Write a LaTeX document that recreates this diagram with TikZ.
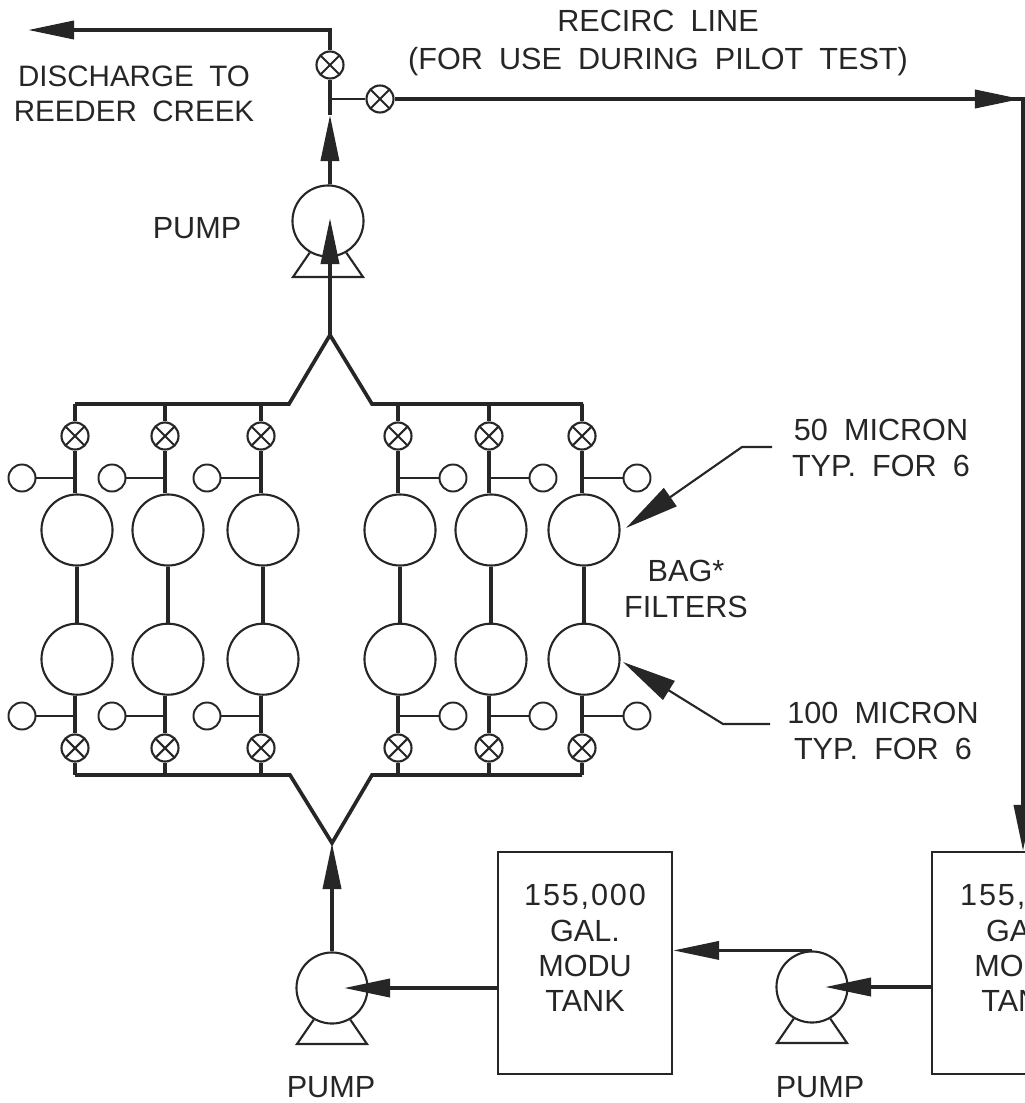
\documentclass[tikz,border=0pt]{standalone}
\usepackage{fontspec}
\setmainfont[WordSpace=1.9]{Liberation Sans}
\usepackage{xcolor}
\usetikzlibrary{arrows.meta, positioning}
\definecolor{plantink}{HTML}{262626}

\begin{document}
\begin{tikzpicture}[
      x=0.01cm, y=-0.01cm,
      node distance=0.56cm,
      pipe/.style={draw=plantink, line width=1.05pt},
      thinpipe/.style={draw=plantink, line width=0.6pt},
      flow/.style={pipe, -{Triangle[length=4.6mm, width=1.8mm]}},
      leader/.style={thinpipe, -{Triangle[length=5.4mm, width=2.2mm]}},
      valve/.style={circle, draw=plantink, line width=0.6pt, fill=white, inner sep=0pt, minimum size=0.27cm,
        path picture={\draw[plantink, line width=0.6pt] (path picture bounding box.north west) -- (path picture bounding box.south east)
          (path picture bounding box.north east) -- (path picture bounding box.south west);}},
      gauge/.style={circle, draw=plantink, line width=0.55pt, inner sep=0pt, minimum size=0.27cm},
      bag/.style={circle, draw=plantink, line width=0.6pt, inner sep=0pt, minimum size=0.71cm},
      pump/.style={circle, draw=plantink, line width=0.6pt, inner sep=0pt, minimum size=0.71cm},
      tank/.style={draw=plantink, line width=0.6pt, minimum width=1.74cm, minimum height=2.22cm},
      tag/.style={text=plantink, align=center, inner sep=0pt, font=\fontsize{8.7}{10}\selectfont}
    ]
      \useasboundingbox (0,0) rectangle (1025,1103);
      \clip (0,0) rectangle (1025,1103);

      % top line
      \node[valve] (valveOut) at (330,65) {};
      \node[valve] (valveRecirc) at (380,99) {};
      \node[pump] (pumpA) at (328,221) {};
      \coordinate (teeOut) at (330,99);
      \coordinate (teeTip) at (330,115);
      \coordinate (pumpATip) at (330,218);
      \coordinate (bendOut) at (330,30);
      \coordinate (outEnd) at (28,30);
      \coordinate (recircTip) at (1021,99);
      \coordinate (recircBend) at (1023,99);
      \coordinate (tankBIn) at (1023,851);

      % upper header
      \coordinate (headTopL) at (75,404);
      \coordinate (headTopK) at (289,404);
      \coordinate (headTopP) at (330,335);
      \coordinate (headTopM) at (372,404);
      \coordinate (headTopR) at (583,404);

      % lower header
      \coordinate (headLowL) at (75,775);
      \coordinate (headLowK) at (290,775);
      \coordinate (headLowP) at (332,843);
      \coordinate (headLowM) at (372,775);
      \coordinate (headLowR) at (582,775);

      % upper valves
      \node[valve] (valveTopA) at (75,436) {};
      \node[valve] (valveTopB) at (165,436) {};
      \node[valve] (valveTopC) at (261,436) {};
      \node[valve] (valveTopD) at (398,436) {};
      \node[valve] (valveTopE) at (489,436) {};
      \node[valve] (valveTopF) at (582,436) {};

      % 50 micron bags
      \node[bag] (bagTopA) at (77,530) {};
      \node[bag] (bagTopB) at (168,530) {};
      \node[bag] (bagTopC) at (263,530) {};
      \node[bag] (bagTopD) at (400,530) {};
      \node[bag] (bagTopE) at (491,530) {};
      \node[bag] (bagTopF) at (584,530) {};

      % 100 micron bags
      \node[bag, below=of bagTopA] (bagLowA) {};
      \node[bag, below=of bagTopB] (bagLowB) {};
      \node[bag, below=of bagTopC] (bagLowC) {};
      \node[bag, below=of bagTopD] (bagLowD) {};
      \node[bag, below=of bagTopE] (bagLowE) {};
      \node[bag, below=of bagTopF] (bagLowF) {};

      % lower valves
      \node[valve] (valveLowA) at (75,748) {};
      \node[valve] (valveLowB) at (165,748) {};
      \node[valve] (valveLowC) at (261,748) {};
      \node[valve] (valveLowD) at (398,748) {};
      \node[valve] (valveLowE) at (489,748) {};
      \node[valve] (valveLowF) at (582,748) {};

      % gauges
      \node[gauge] (gaugeTopA) at (22,478) {};
      \node[gauge] (gaugeTopB) at (112,478) {};
      \node[gauge] (gaugeTopC) at (207,478) {};
      \node[gauge] (gaugeTopD) at (453,478) {};
      \node[gauge] (gaugeTopE) at (543,478) {};
      \node[gauge] (gaugeTopF) at (637,478) {};
      \node[gauge] (gaugeLowA) at (22,716) {};
      \node[gauge] (gaugeLowB) at (112,716) {};
      \node[gauge] (gaugeLowC) at (207,716) {};
      \node[gauge] (gaugeLowD) at (453,716) {};
      \node[gauge] (gaugeLowE) at (543,716) {};
      \node[gauge] (gaugeLowF) at (637,716) {};

      % tanks and lower pumps
      \node[tank] (tankA) at (585,963) {};
      \node[tank] (tankB) at (1019,963) {};
      \node[pump] (pumpB) at (332,988) {};
      \node[pump] (pumpC) at (812,987) {};
      \coordinate (pumpBTip) at (344,988);
      \coordinate (pumpCTip) at (825,987);

      % labels
      \node[tag] (recircName) at (658,43) {RECIRC LINE\\[0.8pt](FOR USE DURING PILOT TEST)};
      \node[tag, font=\fontsize{8.4}{9.8}\selectfont] (outName) at (134,94) {DISCHARGE TO\\REEDER CREEK};
      \node[tag] (pumpAName) at (197,228) {PUMP};
      \node[tag] (pumpBName) at (331,1087) {PUMP};
      \node[tag] (pumpCName) at (820,1087) {PUMP};
      \node[tag] (fiftyName) at (881,448) {50 MICRON\\TYP. FOR 6};
      \node[tag] (hundredName) at (883,731) {100 MICRON\\TYP. FOR 6};
      \node[tag] (bagName) at (686,589) {BAG*\\FILTERS};
      \node[tag] (tankAName) at (585,948) {{\addfontfeature{LetterSpace=6}155,000}\\GAL.\\MODU\\TANK};
      \node[tag] (tankBName) at (1021,948) {{\addfontfeature{LetterSpace=6}155,000}\\GAL.\\MODU\\TANK};

      % discharge and recirc lines
      \draw[flow] (headTopP) -- (pumpATip);
      \draw[flow] (pumpA.87) -- (teeTip);
      \draw[pipe] (teeTip) -- (valveOut);
      \draw[flow] (valveOut) -- (bendOut) -- (outEnd);
      \draw[thinpipe, line width=0.8pt] (teeOut) -- (valveRecirc);
      \draw[flow] (valveRecirc) -- (recircBend) -- (tankBIn);
      \draw[flow] (valveRecirc) -- (recircTip);

      % pump feet
      \draw[thinpipe] (pumpA.-120) -- ([shift={(-35,56)}]pumpA.center) -- ([shift={(35,56)}]pumpA.center) -- (pumpA.-60);
      \draw[thinpipe] (pumpB.-120) -- ([shift={(-35,56)}]pumpB.center) -- ([shift={(35,56)}]pumpB.center) -- (pumpB.-60);
      \draw[thinpipe] (pumpC.-120) -- ([shift={(-35,56)}]pumpC.center) -- ([shift={(35,56)}]pumpC.center) -- (pumpC.-60);

      % headers
      \draw[pipe] (headTopL) -- (headTopK) -- (headTopP) -- (headTopM) -- (headTopR);
      \draw[pipe] (headLowL) -- (headLowK) -- (headLowP) -- (headLowM) -- (headLowR);

      % bag columns
      \draw[pipe] (valveTopA |- headTopL) -- (valveTopA) (valveTopA) -- (valveTopA |- bagTopA.north) (bagTopA) -- (bagLowA) (valveLowA |- bagLowA.south) -- (valveLowA) (valveLowA) -- (valveLowA |- headLowL);
      \draw[pipe] (valveTopB |- headTopL) -- (valveTopB) (valveTopB) -- (valveTopB |- bagTopB.north) (bagTopB) -- (bagLowB) (valveLowB |- bagLowB.south) -- (valveLowB) (valveLowB) -- (valveLowB |- headLowL);
      \draw[pipe] (valveTopC |- headTopL) -- (valveTopC) (valveTopC) -- (valveTopC |- bagTopC.north) (bagTopC) -- (bagLowC) (valveLowC |- bagLowC.south) -- (valveLowC) (valveLowC) -- (valveLowC |- headLowL);
      \draw[pipe] (valveTopD |- headTopL) -- (valveTopD) (valveTopD) -- (valveTopD |- bagTopD.north) (bagTopD) -- (bagLowD) (valveLowD |- bagLowD.south) -- (valveLowD) (valveLowD) -- (valveLowD |- headLowL);
      \draw[pipe] (valveTopE |- headTopL) -- (valveTopE) (valveTopE) -- (valveTopE |- bagTopE.north) (bagTopE) -- (bagLowE) (valveLowE |- bagLowE.south) -- (valveLowE) (valveLowE) -- (valveLowE |- headLowL);
      \draw[pipe] (valveTopF |- headTopL) -- (valveTopF) (valveTopF) -- (valveTopF |- bagTopF.north) (bagTopF) -- (bagLowF) (valveLowF |- bagLowF.south) -- (valveLowF) (valveLowF) -- (valveLowF |- headLowL);

      % gauge stubs
      \draw[thinpipe] (gaugeTopA) -- (valveTopA |- gaugeTopA);
      \draw[thinpipe] (gaugeTopB) -- (valveTopB |- gaugeTopB);
      \draw[thinpipe] (gaugeTopC) -- (valveTopC |- gaugeTopC);
      \draw[thinpipe] (gaugeTopD) -- (valveTopD |- gaugeTopD);
      \draw[thinpipe] (gaugeTopE) -- (valveTopE |- gaugeTopE);
      \draw[thinpipe] (gaugeTopF) -- (valveTopF |- gaugeTopF);
      \draw[thinpipe] (gaugeLowA) -- (valveLowA |- gaugeLowA);
      \draw[thinpipe] (gaugeLowB) -- (valveLowB |- gaugeLowB);
      \draw[thinpipe] (gaugeLowC) -- (valveLowC |- gaugeLowC);
      \draw[thinpipe] (gaugeLowD) -- (valveLowD |- gaugeLowD);
      \draw[thinpipe] (gaugeLowE) -- (valveLowE |- gaugeLowE);
      \draw[thinpipe] (gaugeLowF) -- (valveLowF |- gaugeLowF);

      % feed lines
      \draw[flow] (pumpB.north) -- (headLowP);
      \draw[flow] (tankA.west |- pumpB) -- (pumpBTip);
      \draw[flow] (pumpC.north) -- (tankA.east |- pumpC.north);
      \draw[flow] (tankB.west |- pumpC) -- (pumpCTip);

      % callouts
      \coordinate (fiftyStart) at (772,447);
      \coordinate (fiftyKnee) at (742,447);
      \coordinate (fiftyTip) at (626,528);
      \coordinate (hundredStart) at (770,724);
      \coordinate (hundredKnee) at (723,724);
      \coordinate (hundredTip) at (623,662);
      \draw[leader] (fiftyStart) -- (fiftyKnee) -- (fiftyTip);
      \draw[leader] (hundredStart) -- (hundredKnee) -- (hundredTip);
    \end{tikzpicture}
\end{document}
